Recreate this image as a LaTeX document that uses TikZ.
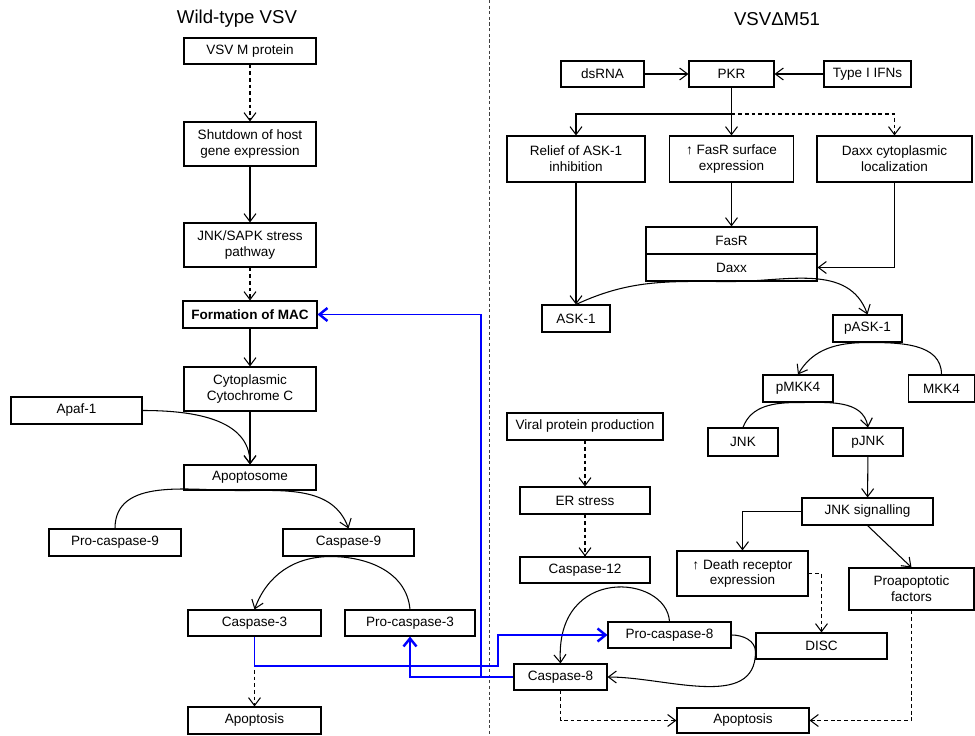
\documentclass[tikz,border=0pt]{standalone}
\usepackage{fontspec}
\setmainfont{Liberation Sans}
\usetikzlibrary{arrows.meta, positioning, calc}

\begin{document}
\begin{tikzpicture}[
    x=0.02cm, y=-0.02cm,
    font=\fontsize{7.7}{9.1}\selectfont,
    box/.style={draw, line width=0.6pt, align=center, inner sep=1pt},
    sz/.style 2 args={minimum width=#1cm, minimum height=#2cm},
    heading/.style={font=\fontsize{10.6}{12}\selectfont},
    arrow/.style={-{Straight Barb[length=1.6mm, width=2.4mm]}, line width=0.6pt},
    darrow/.style={arrow, dash pattern=on 2.2pt off 1.6pt},
    bluearrow/.style={-{Straight Barb[length=1.6mm, width=2.6mm, line width=1.4pt]}, blue, line width=0.85pt}
]
\useasboundingbox (0,0) rectangle (975,736);

% Divider
\draw[dash pattern=on 1.8pt off 1.4pt, line width=0.5pt, black!75] (489,0) -- (489,736);

% Wild-type VSV
\node[heading] (wt) at (237,19) {Wild-type VSV};
\node[box, sz={2.64}{0.52}] (vsvm) at (250,51) {VSV M protein};
\node[box, sz={2.64}{0.88}] (shut) at (250,144) {Shutdown of host\\gene expression};
\node[box, sz={2.64}{0.88}] (jnksapk) at (250,245) {JNK/SAPK stress\\pathway};
\node[box, sz={2.68}{0.54}, font=\fontsize{7.7}{9.1}\selectfont\bfseries] (mac) at (250,314.5) {Formation of MAC};
\node[box, sz={2.64}{0.88}] (cytc) at (250,389) {Cytoplasmic\\Cytochrome C};
\node[box, sz={2.62}{0.54}] (apaf) at (76.5,410.5) {Apaf-1};
\node[box, sz={2.64}{0.5}] (apsome) at (250,477.5) {Apoptosome};
\node[box, sz={2.64}{0.54}] (procasp9) at (115,542.5) {Pro-caspase-9};
\node[box, sz={2.62}{0.54}] (casp9) at (348.5,542.5) {Caspase-9};
\node[box, sz={2.66}{0.52}] (casp3) at (254.5,623) {Caspase-3};
\node[box, sz={2.6}{0.52}] (procasp3) at (410,623) {Pro-caspase-3};
\node[box, sz={2.66}{0.54}] (apoptL) at (254.5,720.5) {Apoptosis};

\draw[darrow] (vsvm) -- (shut);
\draw[arrow] (shut) -- (jnksapk);
\draw[darrow] (jnksapk) -- (mac);
\draw[arrow] (mac) -- (cytc);
\draw[arrow] (cytc) -- (apsome);
\draw[arrow] (apaf.east) to[out=0, in=90] (apsome.north);
\draw[arrow] (procasp9.north) to[out=90, in=180] ($(apsome.south)+(-10,0)$)
    to[out=0, in=110] (casp9.north);
\draw[arrow] (procasp3.north) to[out=95, in=0] ($(casp9.south)+(-18,0)$)
    to[out=180, in=70] (casp3.north);
\draw[darrow] (casp3) -- (apoptL);

% VSV delta M51
\node[heading] (dm) at (777,19) {VSVΔM51};
\node[box, sz={1.66}{0.52}] (dsrna) at (602.5,74) {dsRNA};
\node[box, sz={1.7}{0.52}] (pkr) at (731.5,74) {PKR};
\node[box, sz={1.74}{0.52}] (ifn) at (867.5,74) {Type I IFNs};
\coordinate (pkrsplit) at (731.5,114);
\node[box, sz={2.76}{0.92}] (relief) at (576,159) {Relief of ASK-1\\inhibition};
\node[box, sz={2.48}{0.92}] (fassurf) at (731.5,159) {↑ FasR surface\\expression};
\node[box, sz={3.1}{0.92}] (daxxloc) at (894.5,159) {Daxx cytoplasmic\\localization};
\node[box, sz={3.42}{0.54}] (fasr) at (731.5,240.5) {FasR};
\node[box, sz={3.42}{0.54}] (daxx) at (731.5,267.5) {Daxx};
\node[box, sz={1.36}{0.54}] (ask1) at (576,318.5) {ASK-1};
\node[box, sz={1.38}{0.54}] (pask1) at (867.5,328.5) {pASK-1};
\node[box, sz={1.4}{0.54}] (pmkk4) at (798,388.5) {pMKK4};
\node[box, sz={1.32}{0.54}] (mkk4) at (941.5,388.5) {MKK4};
\node[box, sz={3.12}{0.54}] (viral) at (585,426.5) {Viral protein production};
\node[box, sz={1.4}{0.56}] (jnk) at (743,442) {JNK};
\node[box, sz={1.4}{0.56}] (pjnk) at (868,442) {pJNK};
\node[box, sz={2.6}{0.54}] (er) at (585,500.5) {ER stress};
\node[box, sz={2.6}{0.52}] (casp12) at (585,570) {Caspase-12};
\node[box, sz={2.62}{0.54}] (jnksig) at (867.5,511.5) {JNK signalling};
\node[box, sz={2.62}{0.9}] (deathr) at (742.5,573.5) {↑ Death receptor\\expression};
\node[box, sz={2.5}{0.84}] (proapo) at (911.5,589) {Proapoptotic\\factors};
\node[box, sz={2.62}{0.52}] (disc) at (821.5,646) {DISC};
\node[box, sz={2.46}{0.52}] (procasp8) at (669.5,635) {Pro-caspase-8};
\node[box, sz={1.86}{0.52}] (casp8) at (560.5,677) {Caspase-8};
\node[box, sz={2.64}{0.5}] (apoptR) at (743,720.5) {Apoptosis};
\coordinate (disctouch) at ($(disc.west)+(0,6)$);

\draw[arrow] (dsrna) -- (pkr);
\draw[arrow] (ifn) -- (pkr);
\draw[arrow] (pkr) -- (fassurf);
\draw[arrow] (pkrsplit) -| (relief.north);
\draw[darrow] (pkrsplit) -| (daxxloc.north);
\draw[arrow] (fassurf) -- (fasr);
\draw[arrow] (daxxloc.south) |- (daxx.east);
\draw[arrow] (relief) -- (ask1);
\draw[arrow] (ask1.north) to[out=25, in=180] (daxx.south) to[out=0, in=110] (pask1.north);
\draw[arrow] (mkk4.north) to[out=90, in=0] (pask1.south) to[out=180, in=60] (pmkk4.north);
\draw[arrow] (jnk.north) to[out=70, in=180] (pmkk4.south) to[out=0, in=100] (pjnk.north);
\draw[arrow] (pjnk) -- (jnksig);
\draw[darrow] (viral) -- (er);
\draw[darrow] (er) -- (casp12);
\draw[arrow] (jnksig.west) -| (deathr.north);
\draw[arrow] (jnksig.south) -- (proapo.north);
\draw[darrow] (deathr.east) -| (disc.north);
\draw[arrow] (procasp8.north) .. controls +(-3,-47) and +(-6,-99) .. (casp8.north);
\draw[arrow] (procasp8.east) to[out=0, in=90] (disctouch) to[out=-90, in=0] (casp8.east);
\draw[darrow] (casp8.south) |- (apoptR.west);
\draw[darrow] (proapo.south) |- (apoptR.east);

% Cross talk
\coordinate (bend3) at (498,666);
\coordinate (bendmac) at (481,677);
\draw[bluearrow] (casp3.south) |- (bend3) |- (procasp8.west);
\draw[bluearrow] (casp8.west) -| (procasp3.south);
\draw[bluearrow] (casp8.west) -- (bendmac) |- (mac.east);

\end{tikzpicture}
\end{document}
